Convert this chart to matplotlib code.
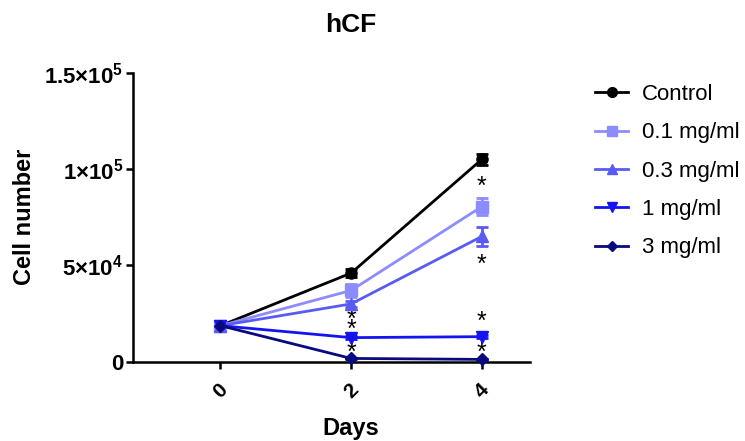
import numpy as np
import matplotlib.pyplot as plt
from matplotlib.lines import Line2D

plt.rcParams['font.family'] = ['Liberation Sans', 'DejaVu Sans']
plt.rcParams['mathtext.fontset'] = 'custom'
plt.rcParams['mathtext.rm'] = 'Liberation Sans'
plt.rcParams['mathtext.default'] = 'regular'

# ---- data ----
days = [0, 2, 4]
labels = ["Control", "0.1 mg/ml", "0.3 mg/ml", "1 mg/ml", "3 mg/ml"]
control = [18700, 46000, 105000]
c01 = [18700, 37000, 80500]
c03 = [18700, 30000, 65000]
c1 = [18700, 12500, 13000]
c3 = [18700, 1700, 1200]
control_err = [1000, 2200, 3000]
c01_err = [800, 3500, 4500]
c03_err = [800, 1500, 5000]
c1_err = [500, 900, 900]
c3_err = [300, 300, 300]

# significance stars (day, height)
star_x = [2, 2, 2, 4, 4, 4, 4]
star_y = [21600, 16400, 4500, 90700, 50200, 20800, 4500]

yticks = [0, 50000, 100000, 150000]
ytick_labels = ["0", "5×10$^{4}$", "1×10$^{5}$", "1.5×10$^{5}$"]

colors = ["black", "#8c8cff", "#5a5af5", "#1414f0", "#0a0a80"]
markers = ["o", "s", "^", "v", "D"]
sizes = [8, 8, 8, 8, 6]

series = [control, c01, c03, c1, c3]
errs = [control_err, c01_err, c03_err, c1_err, c3_err]

fig = plt.figure(figsize=(7.45, 4.41), dpi=100)
ax = fig.add_axes([0.1785, 0.1798, 0.533, 0.6553])

handles = []
for vals, e, col, m, ms, lab in zip(series, errs, colors, markers, sizes, labels):
    ax.errorbar(days, vals, yerr=e, color=col, marker=m, markersize=ms,
                linewidth=2, elinewidth=2, capsize=4, capthick=2,
                clip_on=False, zorder=3)
    handles.append(Line2D([], [], color=col, marker=m, markersize=ms - 1,
                          linewidth=2, label=lab))

for sx, sy in zip(star_x, star_y):
    ax.text(sx, sy, "*", ha="center", va="center", fontsize=18, color="black")

ax.set_xlim(-1.34, 4.74)
ax.set_ylim(0, 150000)
ax.set_xticks(days)
ax.set_xticklabels([str(d) for d in days], rotation=45, fontsize=15, fontweight="bold")
ax.set_yticks(yticks)
ax.set_yticklabels(ytick_labels, fontsize=16, fontweight="bold")

for s in ["top", "right"]:
    ax.spines[s].set_visible(False)
for s in ["left", "bottom"]:
    ax.spines[s].set_linewidth(1.8)
ax.tick_params(direction="out", length=5, width=1.8)
ax.tick_params(axis="x", pad=8)
ax.tick_params(axis="y", pad=2)

fig.text(25 / 745, 1 - 217 / 441, "Cell number", ha="center", va="center",
         rotation=90, fontsize=17, fontweight="bold")
fig.text(351 / 745, 1 - 428 / 441, "Days", ha="center", va="center",
         fontsize=17, fontweight="bold")
fig.text(351 / 745, 1 - 25 / 441, "hCF", ha="center", va="center",
         fontsize=19, fontweight="bold")

ax.legend(handles=handles, loc="upper left", bbox_to_anchor=(595 / 745, 1 - 84 / 441),
          bbox_transform=fig.transFigure, frameon=False, fontsize=16,
          handlelength=1.5, handletextpad=0.6, labelspacing=0.78,
          borderpad=0, borderaxespad=0)

fig.savefig("out.png", dpi=100)
